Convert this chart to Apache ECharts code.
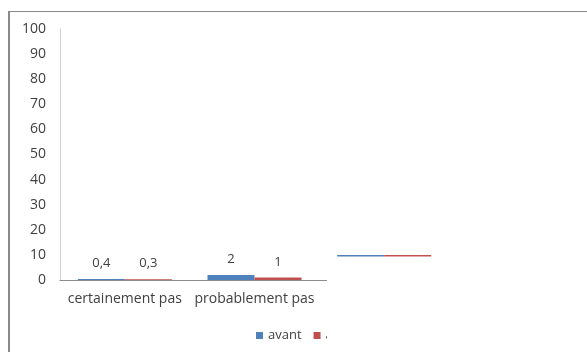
<!DOCTYPE html>
<html>
<head>
<meta charset="utf-8">
<script src="https://cdn.jsdelivr.net/npm/echarts@6/dist/echarts.min.js"></script>
<style>
html,body{margin:0;padding:0;background:#fff;}
#wrap{position:relative;width:587px;height:352px;overflow:hidden;}
#chart{position:absolute;left:0;top:0;width:587px;height:352px;}
#frame{position:absolute;left:8px;top:11px;right:-5px;bottom:-5px;border-top:1px solid #8a8a8a;border-left:2px solid #8a8a8a;pointer-events:none;}
</style>
</head>
<body>
<div id="wrap"><div id="chart"></div><div id="frame"></div></div>
<script>
const categories = ['certainement pas', 'probablement pas', ''];
const avant = [0.4, 2, 10];
const apres = [0.3, 1, 10];
const yTicks = { min: 0, max: 100, interval: 10 };

const font = '"Open Sans", "Liberation Sans", sans-serif';
const fmt = p => p.dataIndex === 2 ? '' : String(p.value).replace('.', ',');

const chart = echarts.init(document.getElementById('chart'), null, { renderer: 'canvas' });
chart.setOption({
  animation: false,
  backgroundColor: '#fff',
  textStyle: { fontFamily: font },
  grid: { left: 60, top: 29, width: 389, bottom: 72, containLabel: false },
  legend: {
    left: 251, top: 324,
    itemWidth: 7, itemHeight: 7, itemGap: 12,
    icon: 'rect',
    textStyle: { fontFamily: font, fontSize: 13, color: '#404040' },
    data: ['avant', 'après']
  },
  xAxis: {
    type: 'category',
    data: categories,
    axisLine: { lineStyle: { color: '#8c8c8c', width: 1 } },
    axisTick: { show: false },
    axisLabel: { fontFamily: font, fontSize: 14, color: '#404040', margin: 12, interval: 0 },
    splitLine: { show: false }
  },
  yAxis: {
    type: 'value',
    min: yTicks.min, max: yTicks.max, interval: yTicks.interval,
    axisLine: { show: true, lineStyle: { color: '#cfcfcf', width: 1 } },
    axisTick: { show: false },
    axisLabel: { fontFamily: font, fontSize: 14, color: '#404040', margin: 14 },
    splitLine: { show: false }
  },
  series: [
    {
      name: 'avant', type: 'bar', data: avant, barWidth: 47, barGap: '0%',
      itemStyle: { color: '#4f81bd' },
      label: { show: true, position: 'top', distance: 9, formatter: fmt, fontFamily: font, fontSize: 13, color: '#404040' }
    },
    {
      name: 'après', type: 'bar', data: apres, barWidth: 47, barGap: '0%',
      itemStyle: { color: '#c0504d' },
      label: { show: true, position: 'top', distance: 9, formatter: fmt, fontFamily: font, fontSize: 13, color: '#404040' }
    }
  ],
  graphic: [
    { type: 'rect', left: 327, top: 256.5, shape: { width: 270, height: 110 }, style: { fill: '#fff', stroke: null, lineWidth: 0 }, z: 1000, silent: true }
  ]
});
</script>
</body>
</html>
